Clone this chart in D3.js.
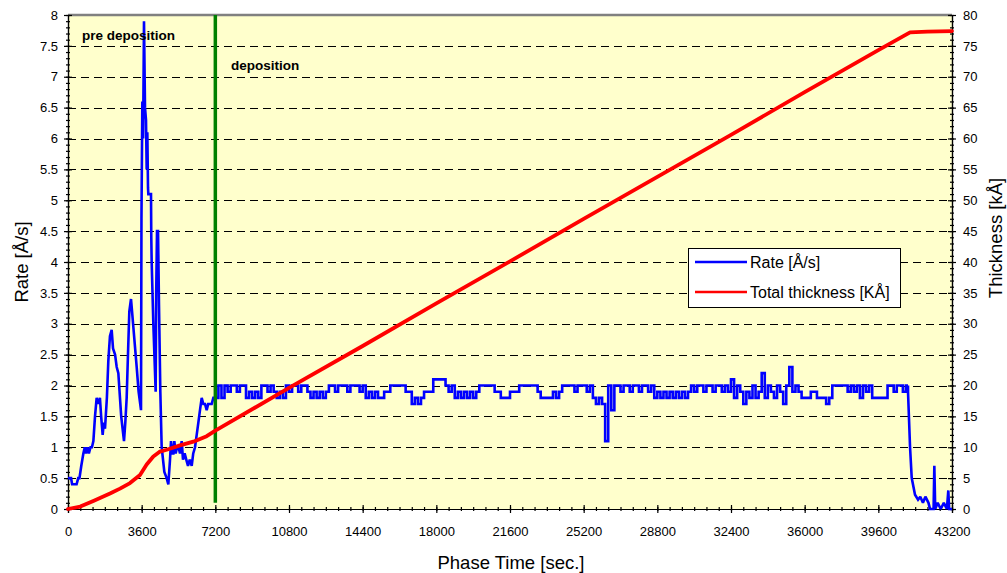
<!DOCTYPE html>
<html>
<head>
<meta charset="utf-8">
<script src="https://cdn.jsdelivr.net/npm/d3@7"></script>
<style>
  html, body { margin: 0; padding: 0; background: #ffffff; }
  svg { display: block; font-family: Arial, "Liberation Sans", sans-serif; }
</style>
</head>
<body>
<svg id="chart" width="1007" height="573"></svg>
<script>
// ---- data -----------------------------------------------------------------
// Rate before the shutter opens [s, Å/s]
const preTimes = [0, 150, 200, 420, 500, 560, 650, 750, 820, 880, 950, 1020, 1100, 1170, 1240, 1320,
  1400, 1480, 1560, 1620, 1694, 1750, 1808, 1900, 1971, 2050, 2134, 2200, 2300, 2380, 2460, 2600,
  2737, 2800, 2867, 2940, 2997, 3079, 3130, 3193, 3280, 3356, 3450, 3568, 3590, 3633, 3670, 3714,
  3763, 3812, 3845, 3877, 3910, 3926, 4056, 4070, 4089, 4170, 4284, 4310, 4350, 4400, 4447, 4512,
  4578, 4708, 4822, 4903, 4985, 5034, 5099, 5150, 5197, 5262, 5330, 5400, 5474, 5556, 5620, 5700,
  5780, 5865, 5950, 6045, 6120, 6207, 6289, 6370, 6450, 6533, 6614, 6696, 6777, 6850, 7021, 7103];
const preRates = [0.5, 0.5, 0.4, 0.4, 0.5, 0.5, 0.7, 0.9, 1.0, 0.9, 1.0, 0.9, 1.0, 1.0, 1.1, 1.5,
  1.8, 1.7, 1.8, 1.5, 1.2, 1.4, 1.3, 1.8, 2.4, 2.8, 2.9, 2.6, 2.5, 2.3, 2.2, 1.5,
  1.1, 1.4, 1.8, 2.6, 3.2, 3.4, 3.2, 2.95, 2.6, 2.3, 1.9, 1.6, 4.7, 6.6, 6.0, 7.9,
  6.5, 6.3, 5.5, 6.1, 5.2, 5.1, 5.1, 4.4, 4.0, 3.0, 1.9, 3.5, 4.5, 4.5, 3.3, 1.9,
  1.0, 0.6, 0.5, 0.4, 0.8, 1.1, 0.9, 0.9, 1.1, 0.9, 1.0, 1.0, 0.9, 1.1, 0.8, 0.9,
  0.8, 0.7, 0.8, 0.7, 0.9, 1.0, 1.2, 1.4, 1.6, 1.8, 1.7, 1.7, 1.6, 1.7, 1.7, 1.8];

// Rate during deposition, one sample every depStep seconds from depStart
const depStart = 7200;
const depStep = 150;
const depRates = [
  1.8, 2.0, 1.8, 2.0, 1.9, 2.0, 2.0, 1.9, 2.0, 2.0,
  1.8, 1.9, 1.8, 1.9, 1.8, 2.0, 2.0, 1.9, 2.0, 1.9,
  1.8, 1.9, 1.8, 2.0, 1.9, 2.0, 2.0, 1.9, 2.0, 2.0,
  1.9, 1.8, 1.9, 1.8, 1.9, 1.8, 1.9, 2.0, 2.0, 1.9,
  2.0, 2.0, 2.0, 1.9, 2.0, 2.0, 2.0, 1.9, 2.0, 1.8,
  1.9, 1.8, 1.9, 1.8, 1.8, 1.9, 1.9, 2.0, 2.0, 2.0,
  2.0, 2.0, 1.9, 1.9, 1.7, 1.8, 1.7, 1.8, 1.9, 1.9,
  1.9, 2.1, 2.1, 2.1, 2.1, 2.0, 1.9, 2.0, 1.8, 1.9,
  1.8, 1.9, 1.8, 1.9, 1.8, 1.9, 2.0, 2.0, 2.0, 2.0,
  2.0, 1.9, 1.9, 1.8, 1.8, 1.8, 1.9, 1.9, 1.9, 2.0,
  2.0, 2.0, 2.0, 2.0, 2.0, 1.9, 1.8, 1.8, 1.8, 1.8,
  1.9, 1.8, 1.9, 2.0, 2.0, 2.0, 2.0, 1.9, 2.0, 2.0,
  2.0, 1.9, 2.0, 1.8, 1.7, 1.8, 1.7, 1.1, 2.0, 1.6,
  2.0, 2.0, 1.9, 2.0, 2.0, 1.9, 2.0, 2.0, 1.9, 2.0,
  2.0, 1.9, 2.0, 1.8, 1.9, 1.8, 1.9, 1.8, 1.9, 1.8,
  1.9, 1.8, 1.9, 1.8, 1.9, 2.0, 1.9, 2.0, 2.0, 1.9,
  2.0, 2.0, 1.9, 2.0, 2.0, 1.9, 2.0, 1.9, 2.1, 1.8,
  2.0, 1.9, 1.7, 1.9, 1.8, 2.0, 1.8, 1.9, 2.2, 1.8,
  2.0, 1.9, 1.8, 2.0, 1.9, 1.7, 2.0, 2.3, 1.9, 2.0,
  1.9, 1.8, 1.8, 1.8, 1.9, 1.9, 1.8, 1.8, 1.8, 1.7,
  1.8, 2.0, 2.0, 2.0, 2.0, 2.0, 1.9, 2.0, 1.9, 2.0,
  1.8, 2.0, 1.9, 2.0, 1.8, 1.8, 1.8, 1.8, 1.8, 2.0,
  2.0, 1.9, 2.0, 2.0, 1.9, 2.0];

// Rate after the shutter closes [s, Å/s]
const tailTimes = [41050, 41150, 41232, 41393, 41540, 41650, 41780, 41900, 42050, 42127,
  42300, 42337, 42380, 42500, 42650, 42800, 42950, 43020, 43060, 43200];
const tailRates = [1.9, 1.0, 0.5, 0.23, 0.15, 0.2, 0.1, 0.2, 0.1, 0.0,
  0.0, 0.7, 0.0, 0.1, 0.0, 0.1, 0.0, 0.3, 0.0, 0.0];

// Accumulated thickness [s, kÅ]
const thickTimes = [0, 600, 1238, 2052, 2541, 3030, 3519, 3844, 4170, 4496, 4822, 5474, 6125, 6777,
  7200, 10800, 14400, 18000, 21600, 25200, 28800, 32400, 36000, 39600, 41150, 42000, 43200];
const thickValues = [0, 0.4, 1.3, 2.5, 3.3, 4.2, 5.5, 7.2, 8.5, 9.3, 9.6, 10.3, 10.9, 11.8,
  12.7, 19.6, 26.4, 33.3, 40.1, 47.0, 53.8, 60.6, 67.5, 74.3, 77.2, 77.3, 77.4];

// Start of deposition (marker line) and its extent on the rate axis
const depositionMark = 7200;
const depositionMarkRates = [0.1, 8];

// Axis ticks
const timeTicks = [0, 3600, 7200, 10800, 14400, 18000, 21600, 25200, 28800, 32400, 36000, 39600, 43200];
const rateTicks = [0, 0.5, 1, 1.5, 2, 2.5, 3, 3.5, 4, 4.5, 5, 5.5, 6, 6.5, 7, 7.5, 8];
const thickTicks = [0, 5, 10, 15, 20, 25, 30, 35, 40, 45, 50, 55, 60, 65, 70, 75, 80];
const timeMinorStep = 600;
const rateMinorStep = 0.1;
const thickMinorStep = 1;

// ---- chart ----------------------------------------------------------------
const svg = d3.select("#chart");
const plot = { left: 68, right: 952, top: 15, bottom: 509 };

const x = d3.scaleLinear().domain([0, 43200]).range([plot.left, plot.right]);
const yRate = d3.scaleLinear().domain([0, 8]).range([plot.bottom, plot.top]);
const yThick = d3.scaleLinear().domain([0, 80]).range([plot.bottom, plot.top]);

// plot background
svg.append("rect")
  .attr("x", plot.left).attr("y", plot.top)
  .attr("width", plot.right - plot.left).attr("height", plot.bottom - plot.top)
  .attr("fill", "#FFFFCC");

// dashed horizontal gridlines
svg.append("g").selectAll("line")
  .data(rateTicks.filter(v => v > 0 && v < 8))
  .join("line")
  .attr("x1", plot.left).attr("x2", plot.right)
  .attr("y1", d => Math.round(yRate(d)) + 0.5).attr("y2", d => Math.round(yRate(d)) + 0.5)
  .attr("stroke", "#000").attr("stroke-width", 1).attr("stroke-dasharray", "8,5");

// top border
svg.append("line")
  .attr("x1", plot.left).attr("x2", plot.right)
  .attr("y1", plot.top).attr("y2", plot.top)
  .attr("stroke", "#808080").attr("stroke-width", 2.5);

// minor-tick helper
function minorValues(lo, hi, step) {
  const n = Math.round((hi - lo) / step);
  return d3.range(n + 1).map(i => +(lo + i * step).toFixed(6));
}

function styleAxis(g) {
  g.select(".domain").attr("stroke", "#000").attr("stroke-width", 1.2);
  g.selectAll(".tick line").attr("stroke", "#000").attr("stroke-width", 1.2);
  g.selectAll(".tick text").attr("fill", "#000").attr("font-size", 13)
    .attr("font-family", "Arial, 'Liberation Sans', sans-serif");
  g.attr("font-family", null).attr("font-size", null);
}

// left axis (rate)
const gLeftMinor = svg.append("g").attr("transform", `translate(${plot.left},0)`)
  .call(d3.axisLeft(yRate).tickValues(minorValues(0, 8, rateMinorStep)).tickSize(2).tickFormat(""));
gLeftMinor.selectAll(".tick line").attr("x1", 2);
styleAxis(gLeftMinor);
const gLeft = svg.append("g").attr("transform", `translate(${plot.left},0)`)
  .call(d3.axisLeft(yRate).tickValues(rateTicks).tickSize(4).tickPadding(6).tickFormat(d => String(d)));
gLeft.selectAll(".tick line").attr("x1", 4);
styleAxis(gLeft);

// right axis (thickness)
const gRightMinor = svg.append("g").attr("transform", `translate(${plot.right},0)`)
  .call(d3.axisRight(yThick).tickValues(minorValues(0, 80, thickMinorStep)).tickSize(2).tickFormat(""));
gRightMinor.selectAll(".tick line").attr("x1", -2);
styleAxis(gRightMinor);
const gRight = svg.append("g").attr("transform", `translate(${plot.right},0)`)
  .call(d3.axisRight(yThick).tickValues(thickTicks).tickSize(4).tickPadding(7).tickFormat(d => String(d)));
gRight.selectAll(".tick line").attr("x1", -4);
styleAxis(gRight);

// bottom axis (time)
const gBottomMinor = svg.append("g").attr("transform", `translate(0,${plot.bottom})`)
  .call(d3.axisBottom(x).tickValues(minorValues(0, 43200, timeMinorStep)).tickSize(2).tickFormat(""));
gBottomMinor.selectAll(".tick line").attr("y1", -2);
styleAxis(gBottomMinor);
const gBottom = svg.append("g").attr("transform", `translate(0,${plot.bottom})`)
  .call(d3.axisBottom(x).tickValues(timeTicks).tickSize(4).tickPadding(14).tickFormat(d => String(d)));
gBottom.selectAll(".tick line").attr("y1", -4);
styleAxis(gBottom);

// rate series, one piece per phase; deposition readings are held until the next sample
const preSeries = preTimes.map((t, i) => [t, preRates[i]]);
const depSeries = depRates.map((v, i) => [depStart + i * depStep, v]);
const tailSeries = tailTimes.map((t, i) => [t, tailRates[i]]);
preSeries.push(depSeries[0]);
tailSeries.unshift(depSeries[depSeries.length - 1]);

const thickSeries = thickTimes.map((t, i) => [t, thickValues[i]]);

const rateLine = d3.line().x(d => x(d[0])).y(d => yRate(d[1]));
const rateStepLine = d3.line().x(d => x(d[0])).y(d => yRate(d[1])).curve(d3.curveStepAfter);
const thickLine = d3.line().x(d => x(d[0])).y(d => yThick(d[1]));

const rateGroup = svg.append("g")
  .attr("fill", "none").attr("stroke", "#0000FF").attr("stroke-width", 2.6)
  .attr("stroke-linejoin", "miter").attr("stroke-miterlimit", 2);
rateGroup.append("path").datum(preSeries).attr("d", rateLine);
rateGroup.append("path").datum(depSeries.concat([[tailTimes[0], depRates[depRates.length - 1]]]))
  .attr("d", rateStepLine);
rateGroup.append("path").datum([[tailTimes[0], depRates[depRates.length - 1]]].concat(tailSeries.slice(1)))
  .attr("d", rateLine);

// deposition start marker
svg.append("line")
  .attr("x1", x(depositionMark)).attr("x2", x(depositionMark))
  .attr("y1", yRate(depositionMarkRates[0])).attr("y2", yRate(depositionMarkRates[1]))
  .attr("stroke", "#008000").attr("stroke-width", 3.5);

svg.append("path")
  .datum(thickSeries)
  .attr("d", thickLine)
  .attr("fill", "none").attr("stroke", "#FF0000").attr("stroke-width", 3.8)
  .attr("stroke-linejoin", "round").attr("stroke-linecap", "round");

// phase annotations
svg.append("text").attr("x", 82).attr("y", 40)
  .attr("font-size", 13.5).attr("font-weight", "bold").attr("fill", "#000")
  .text("pre deposition");
svg.append("text").attr("x", 231).attr("y", 70)
  .attr("font-size", 13.5).attr("font-weight", "bold").attr("fill", "#000")
  .text("deposition");

// axis titles
svg.append("text")
  .attr("transform", `translate(28,${(plot.top + plot.bottom) / 2}) rotate(-90)`)
  .attr("text-anchor", "middle").attr("font-size", 18.5).attr("fill", "#000")
  .text("Rate [Å/s]");
svg.append("text")
  .attr("transform", `translate(1002,238) rotate(-90)`)
  .attr("text-anchor", "middle").attr("font-size", 18.5).attr("fill", "#000")
  .text("Thickness [kÅ]");
svg.append("text")
  .attr("x", 511).attr("y", 569)
  .attr("text-anchor", "middle").attr("font-size", 18.5).attr("fill", "#000")
  .text("Phase Time [sec.]");

// legend
const legend = svg.append("g").attr("transform", "translate(688,248)");
legend.append("rect")
  .attr("x", 0.5).attr("y", 0.5).attr("width", 212).attr("height", 59)
  .attr("fill", "#fff").attr("stroke", "#000").attr("stroke-width", 1);
const legendItems = [
  { label: "Rate [Å/s]", color: "#0000FF" },
  { label: "Total thickness [KÅ]", color: "#FF0000" }
];
legendItems.forEach((it, i) => {
  const cy = 14 + i * 30;
  legend.append("line")
    .attr("x1", 7).attr("x2", 59).attr("y1", cy).attr("y2", cy)
    .attr("stroke", it.color).attr("stroke-width", 2.5);
  legend.append("text")
    .attr("x", 62).attr("y", cy + 6)
    .attr("font-size", 16).attr("fill", "#000")
    .text(it.label);
});
</script>
</body>
</html>
